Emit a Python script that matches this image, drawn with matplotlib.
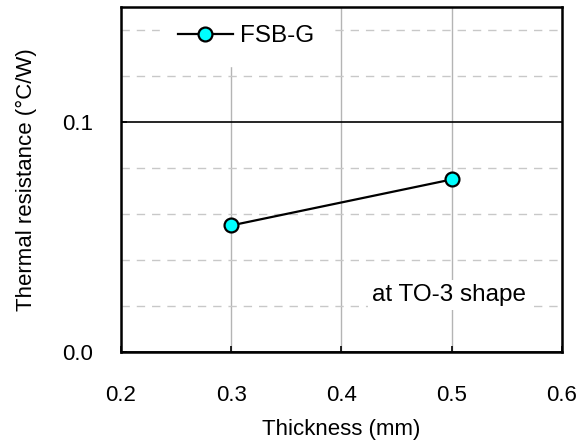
import matplotlib.pyplot as plt
from matplotlib.ticker import MultipleLocator, FormatStrFormatter

plt.rcParams['font.family'] = ['Liberation Sans', 'DejaVu Sans']

thickness = [0.3, 0.5]
resistance = [0.055, 0.075]
series_name = 'FSB-G'
note = 'at TO-3 shape'

fig = plt.figure(figsize=(5.87, 4.41), dpi=100)
ax = fig.add_axes([0.206, 0.202, 0.751, 0.782])

ax.set_xlim(0.2, 0.6)
ax.set_ylim(0.0, 0.15)
ax.xaxis.set_major_locator(MultipleLocator(0.1))
ax.yaxis.set_major_locator(MultipleLocator(0.1))
ax.yaxis.set_minor_locator(MultipleLocator(0.02))
ax.xaxis.set_major_formatter(FormatStrFormatter('%.1f'))
ax.yaxis.set_major_formatter(FormatStrFormatter('%.1f'))

# grid: gray verticals, black major horizontal, dashed minor horizontals
ax.grid(axis='x', which='major', color='#b4b4b4', lw=1.0)
ax.grid(axis='y', which='major', color='black', lw=1.2)
ax.grid(axis='y', which='minor', color='#c8c8c8', lw=1.0, ls=(0, (6, 5)))
ax.set_axisbelow(True)

ax.tick_params(which='major', direction='in', length=4, width=1.2, labelsize=16)
ax.tick_params(axis='x', which='major', pad=24)
ax.tick_params(axis='y', which='major', pad=20)
ax.tick_params(axis='y', which='minor', length=0)
for s in ax.spines.values():
    s.set_linewidth(1.8)

ax.plot(thickness, resistance, color='black', lw=1.6, marker='o', ms=10,
        mfc='#00ffff', mec='black', mew=1.6, label=series_name, zorder=3)

leg = ax.legend(loc='upper left', bbox_to_anchor=(0.088, 1.0), borderaxespad=0,
                fontsize=17.5, frameon=True, fancybox=False, framealpha=1,
                edgecolor='white', handlelength=2.26, handletextpad=0.29,
                borderpad=0.75)
leg.set_zorder(2.2)  # keep the white box under the spines

ax.text(0.4975, 0.0248, note, fontsize=17.5, ha='center', va='center',
        bbox=dict(facecolor='white', edgecolor='none', pad=3))

ax.set_xlabel('Thickness (mm)', fontsize=16, labelpad=9)
ax.set_ylabel('Thermal resistance (°C/W)', fontsize=16, labelpad=18)

fig.savefig('out.png', dpi=100)
